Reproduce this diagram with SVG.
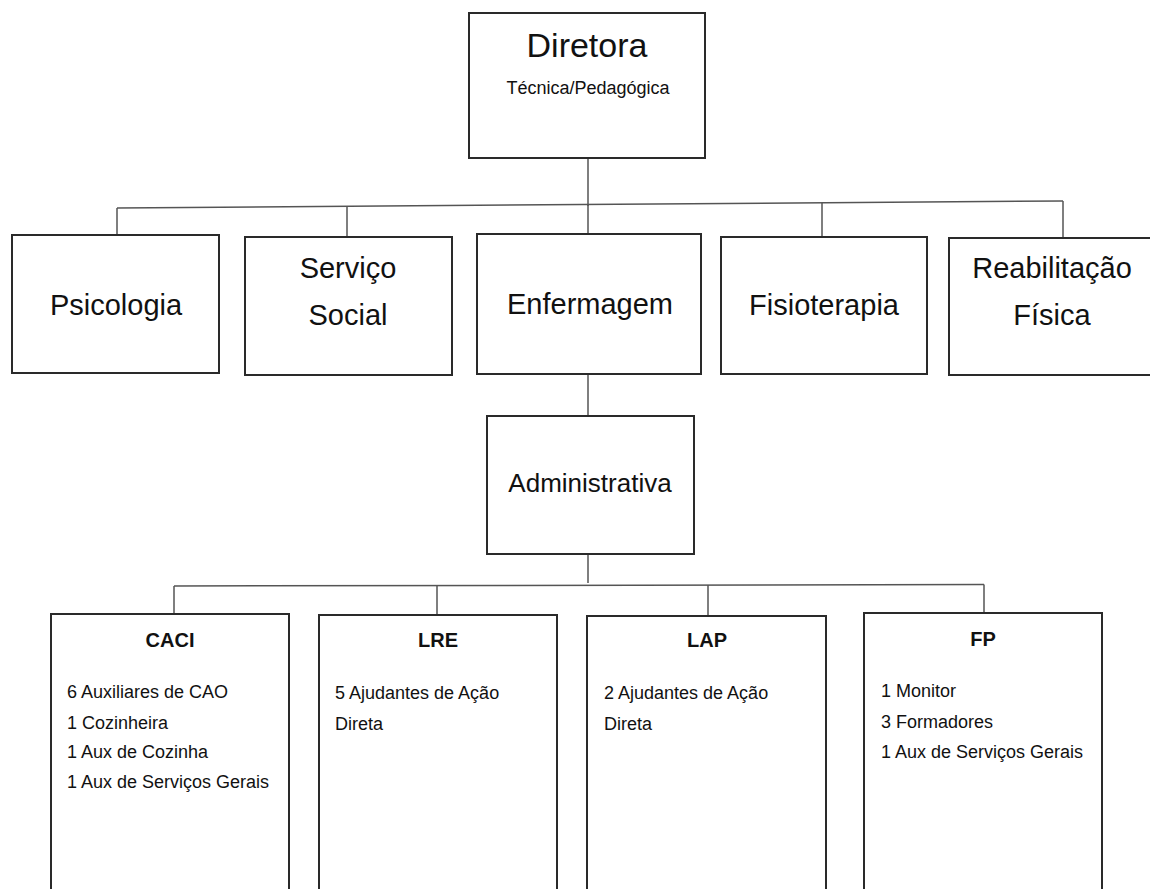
<svg xmlns="http://www.w3.org/2000/svg" width="1150" height="889" viewBox="0 0 1150 889">
<style>
.box{fill:#fff;stroke:#2a2a2a;stroke-width:2}
.con{fill:none;stroke:#555;stroke-width:1.5}
text{font-family:"Liberation Sans",Arial,sans-serif;fill:#111}
.big{font-size:29px;text-anchor:middle}
.mid{font-size:26px;text-anchor:middle}
.ttl{font-size:20px;font-weight:bold;text-anchor:middle}
.lst{font-size:18px}
</style>
<rect width="1150" height="889" fill="#fff"/>
<g id="connectors">
<line class="con" x1="588" y1="158" x2="588" y2="206"/>
<line class="con" x1="117" y1="208" x2="1063" y2="201"/>
<line class="con" x1="117" y1="208" x2="117" y2="235"/>
<line class="con" x1="347" y1="206.3" x2="347" y2="237"/>
<line class="con" x1="588" y1="204.5" x2="588" y2="234"/>
<line class="con" x1="822" y1="202.8" x2="822" y2="237"/>
<line class="con" x1="1063" y1="201" x2="1063" y2="238"/>
<line class="con" x1="588" y1="374" x2="588" y2="416"/>
<line class="con" x1="588" y1="554" x2="588" y2="583"/>
<line class="con" x1="174" y1="586" x2="984" y2="584.5"/>
<line class="con" x1="174" y1="586" x2="174" y2="614"/>
<line class="con" x1="437" y1="585.5" x2="437" y2="615"/>
<line class="con" x1="708" y1="585" x2="708" y2="616" stroke="#222"/>
<line class="con" x1="984" y1="584.5" x2="984" y2="613"/>
</g>
<g id="diretora">
<rect class="box" x="469" y="13" width="236" height="145"/>
<text x="587" y="57" font-size="34" text-anchor="middle">Diretora</text>
<text x="588" y="94" font-size="18" text-anchor="middle">Técnica/Pedagógica</text>
</g>
<g id="psicologia">
<rect class="box" x="12" y="235" width="207" height="138"/>
<text class="big" x="116" y="315">Psicologia</text>
</g>
<g id="servico-social">
<rect class="box" x="245" y="237" width="207" height="138"/>
<text class="big" x="348" y="278">Serviço</text>
<text class="big" x="348" y="325">Social</text>
</g>
<g id="enfermagem">
<rect class="box" x="477" y="234" width="224" height="140"/>
<text class="big" x="590" y="314">Enfermagem</text>
</g>
<g id="fisioterapia">
<rect class="box" x="721" y="237" width="206" height="137"/>
<text class="big" x="824" y="315">Fisioterapia</text>
</g>
<g id="reabilitacao">
<rect class="box" x="949" y="238" width="230" height="137"/>
<text class="big" x="1052" y="278">Reabilitação</text>
<text class="big" x="1052" y="325">Física</text>
</g>
<g id="administrativa">
<rect class="box" x="487" y="416" width="207" height="138"/>
<text class="mid" x="590" y="492">Administrativa</text>
</g>
<g id="caci">
<rect class="box" x="51" y="614" width="238" height="290"/>
<text class="ttl" x="170" y="647">CACI</text>
<text class="lst" x="67" y="698">6 Auxiliares de CAO</text>
<text class="lst" x="67" y="729">1 Cozinheira</text>
<text class="lst" x="67" y="758">1 Aux de Cozinha</text>
<text class="lst" x="67" y="788">1 Aux de Serviços Gerais</text>
</g>
<g id="lre">
<rect class="box" x="319" y="615" width="238" height="290"/>
<text class="ttl" x="438" y="647">LRE</text>
<text class="lst" x="335" y="699">5 Ajudantes de Ação</text>
<text class="lst" x="335" y="730">Direta</text>
</g>
<g id="lap">
<rect class="box" x="587" y="616" width="239" height="290"/>
<text class="ttl" x="707" y="647">LAP</text>
<text class="lst" x="604" y="699">2 Ajudantes de Ação</text>
<text class="lst" x="604" y="730">Direta</text>
</g>
<g id="fp">
<rect class="box" x="864" y="613" width="238" height="290"/>
<text class="ttl" x="983" y="646">FP</text>
<text class="lst" x="881" y="697">1 Monitor</text>
<text class="lst" x="881" y="728">3 Formadores</text>
<text class="lst" x="881" y="758">1 Aux de Serviços Gerais</text>
</g>
</svg>
